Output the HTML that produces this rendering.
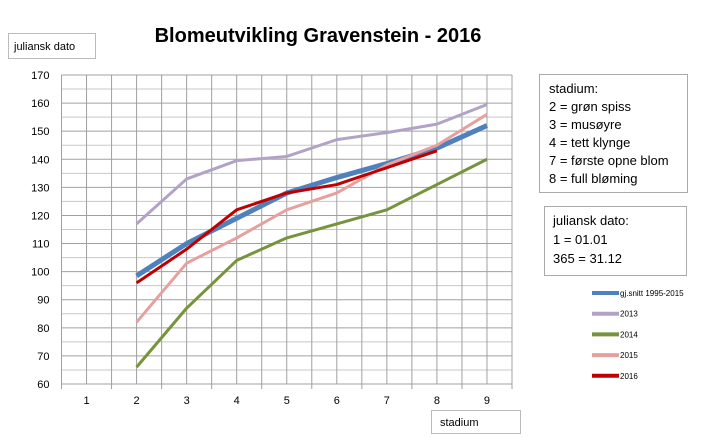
<!DOCTYPE html>
<html><head><meta charset="utf-8"><style>
body{margin:0;background:#fff;font-family:"Liberation Sans",sans-serif}
svg{display:block}
text{font-family:"Liberation Sans",sans-serif}
</style></head><body>
<svg width="708" height="437" viewBox="0 0 708 437">
<rect width="708" height="437" fill="#fff"/>
<text x="318" y="42" text-anchor="middle" font-size="20" font-weight="bold">Blomeutvikling Gravenstein - 2016</text>
<rect x="8.5" y="33.5" width="87" height="25" fill="#fff" stroke="#bbb"/>
<text x="14" y="50" font-size="11">juliansk dato</text>
<rect x="431.5" y="410.5" width="89" height="23" fill="#fff" stroke="#bbb"/>
<text x="440" y="426" font-size="11">stadium</text>
<g id="grid"></g>
<g id="series"></g>
<g id="ticks"></g>
<rect x="539.5" y="74.5" width="148" height="118" fill="#fff" stroke="#aaa"/>
<g font-size="13">
<text x="549" y="93">stadium:</text><text x="549" y="111">2 = grøn spiss</text><text x="549" y="129">3 = musøyre</text><text x="549" y="147">4 = tett klynge</text><text x="549" y="165">7 = første opne blom</text><text x="549" y="183">8 = full bløming</text></g>
<rect x="544.5" y="206.5" width="142" height="69" fill="#fff" stroke="#aaa"/>
<g font-size="13">
<text x="553" y="225">juliansk dato:</text><text x="553" y="244">1 = 01.01</text><text x="553" y="263">365 = 31.12</text></g>
<g id="legend"></g>
</svg>
<script>
const categories=[1,2,3,4,5,6,7,8,9];
const yTicks=[60,70,80,90,100,110,120,130,140,150,160,170];
const seriesNames=["gj.snitt 1995-2015","2013","2014","2015","2016"];
const avg=[null,98.5,110,119,128,133.5,138.5,144,152];
const y2013=[null,117,133,139.5,141,147,149.5,152.5,159.5];
const y2014=[null,66,87,104,112,117,122,131,140];
const y2015=[null,82,103,112,122,128,138,145,156];
const y2016=[null,96,108,122,128,131,137,143,null];
const colors=["#4f81bd","#b3a2c7","#77933c","#e6a09e","#c00000"];
const widths=[5,3,3,3,3];
const NS="http://www.w3.org/2000/svg";
const L=61.5,R=512,T=75,B=384,yMin=60,yMax=170;
const step=(R-L)/categories.length;
const xs=i=>L+step*(i+0.5);
const ys=v=>B-(v-yMin)/(yMax-yMin)*(B-T);
function mk(tag,attrs,parent){const e=document.createElementNS(NS,tag);for(const k in attrs)e.setAttribute(k,attrs[k]);parent.appendChild(e);return e;}
const grid=document.getElementById('grid'),ticks=document.getElementById('ticks'),sg=document.getElementById('series'),lg=document.getElementById('legend');
for(let v=yMin;v<=yMax;v+=5){const l=mk('line',{x1:L,x2:R,y1:ys(v),y2:ys(v),stroke:v%10?'#c8c8c8':'#a0a0a0','stroke-width':1},grid);

}
for(let i=0;i<=categories.length*2;i++){const x=L+step*i/2;const l=mk('line',{x1:x,x2:x,y1:T,y2:B+(i%2?0:5),stroke:'#a0a0a0','stroke-width':1},grid);

}
yTicks.forEach(v=>{const t=mk('text',{x:L-12,y:ys(v)+4,'text-anchor':'end','font-size':11},ticks);t.textContent=v;

});
categories.forEach((c,i)=>{const t=mk('text',{x:xs(i),y:B+20,'text-anchor':'middle','font-size':11},ticks);t.textContent=c;

});
[avg,y2013,y2014,y2015,y2016].forEach((s,k)=>{let d='';s.forEach((v,i)=>{if(v==null)return;d+=(d?'L':'M')+xs(i)+' '+ys(v);});
const p=mk('path',{d:d,fill:'none',stroke:colors[k],'stroke-width':widths[k],'stroke-linejoin':'round'},sg);


const ly=293+k*20.7;
const ll=mk('line',{x1:592,x2:619,y1:ly,y2:ly,stroke:colors[k],'stroke-width':4},lg);


const lt=mk('text',{x:620,y:ly+3,'font-size':8},lg);lt.textContent=seriesNames[k];

});
</script>
</body></html>
